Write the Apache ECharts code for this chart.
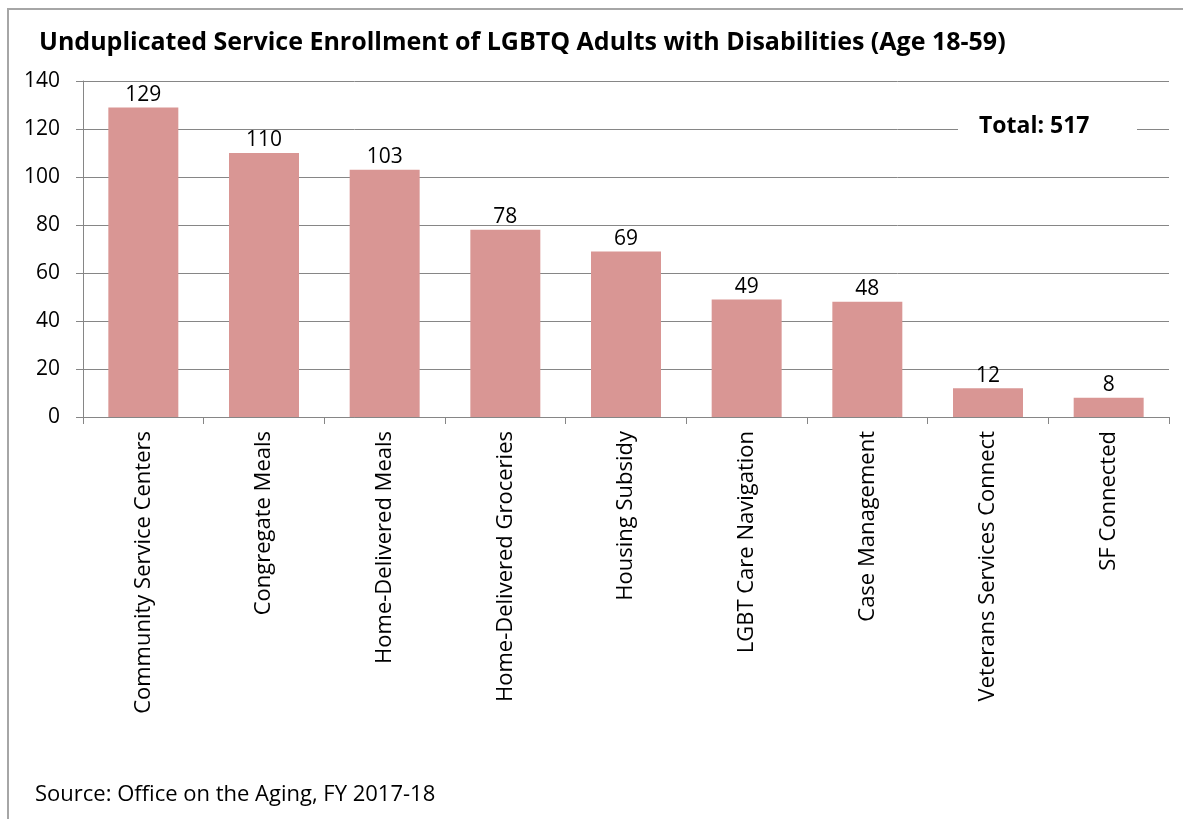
<!DOCTYPE html>
<html>
<head>
<meta charset="utf-8">
<script src="https://cdn.jsdelivr.net/npm/echarts@6/dist/echarts.min.js"></script>
<style>
  html, body { margin: 0; padding: 0; background: #fff; }
  #chart { width: 1183px; height: 819px; }
</style>
</head>
<body>
<div id="chart"></div>
<script>
// Service categories and unduplicated enrollment counts
const categories = [
  'Community Service Centers',
  'Congregate Meals',
  'Home-Delivered Meals',
  'Home-Delivered Groceries',
  'Housing Subsidy',
  'LGBT Care Navigation',
  'Case Management',
  'Veterans Services Connect',
  'SF Connected'
];
const enrollment = [129, 110, 103, 78, 69, 49, 48, 12, 8];
const totalUnduplicated = 517;
const yTicks = [0, 20, 40, 60, 80, 100, 120, 140];

const FONT = '"Open Sans", "Noto Sans", sans-serif';
const chart = echarts.init(document.getElementById('chart'), null, { renderer: 'canvas' });

chart.setOption({
  backgroundColor: '#ffffff',
  animation: false,
  title: {
    text: 'Unduplicated Service Enrollment of LGBTQ Adults with Disabilities (Age 18-59)',
    left: 34,
    top: 25,
    textStyle: { fontFamily: FONT, fontWeight: 'bold', fontSize: 25, color: '#000' }
  },
  grid: { left: 83, right: 14, top: 81, bottom: 402, containLabel: false },
  xAxis: {
    type: 'category',
    data: categories,
    axisLine: { lineStyle: { color: '#868686', width: 1 } },
    axisTick: { show: true, length: 7, lineStyle: { color: '#868686' } },
    axisLabel: {
      rotate: 90,
      margin: 14,
      interval: 0,
      fontFamily: FONT,
      fontSize: 22,
      color: '#000'
    }
  },
  yAxis: {
    type: 'value',
    min: yTicks[0],
    max: yTicks[yTicks.length - 1],
    interval: 20,
    axisLine: { show: true, lineStyle: { color: '#868686' } },
    axisTick: { show: true, inside: false, length: 7, lineStyle: { color: '#868686' } },
    splitLine: { lineStyle: { color: '#868686', width: 1 } },
    axisLabel: { margin: 23, fontFamily: FONT, fontSize: 21, color: '#000' }
  },
  series: [{
    type: 'bar',
    data: enrollment,
    barWidth: '58%',
    itemStyle: { color: '#d99694' },
    label: {
      show: true,
      position: 'top',
      distance: 2,
      fontFamily: FONT,
      fontSize: 21,
      color: '#000'
    }
  }],
  graphic: [
    {
      type: 'rect',
      silent: true,
      shape: { x: 8, y: 9, width: 1300, height: 1000 },
      style: { fill: 'none', stroke: '#a6a6a6', lineWidth: 2 },
      z: -10
    },
    {
      type: 'rect',
      silent: true,
      shape: { x: 958, y: 113, width: 179, height: 30 },
      style: { fill: '#ffffff' },
      z: 50
    },
    {
      type: 'text',
      silent: true,
      left: 979,
      top: 115,
      z: 51,
      style: {
        text: 'Total: ' + totalUnduplicated,
        fontFamily: FONT,
        fontWeight: 'bold',
        fontSize: 23,
        fill: '#000'
      }
    },
    {
      type: 'text',
      silent: true,
      left: 35,
      top: 784,
      style: {
        text: 'Source: Office on the Aging, FY 2017-18',
        fontFamily: FONT,
        fontSize: 22,
        fill: '#000'
      }
    }
  ]
});
</script>
</body>
</html>
